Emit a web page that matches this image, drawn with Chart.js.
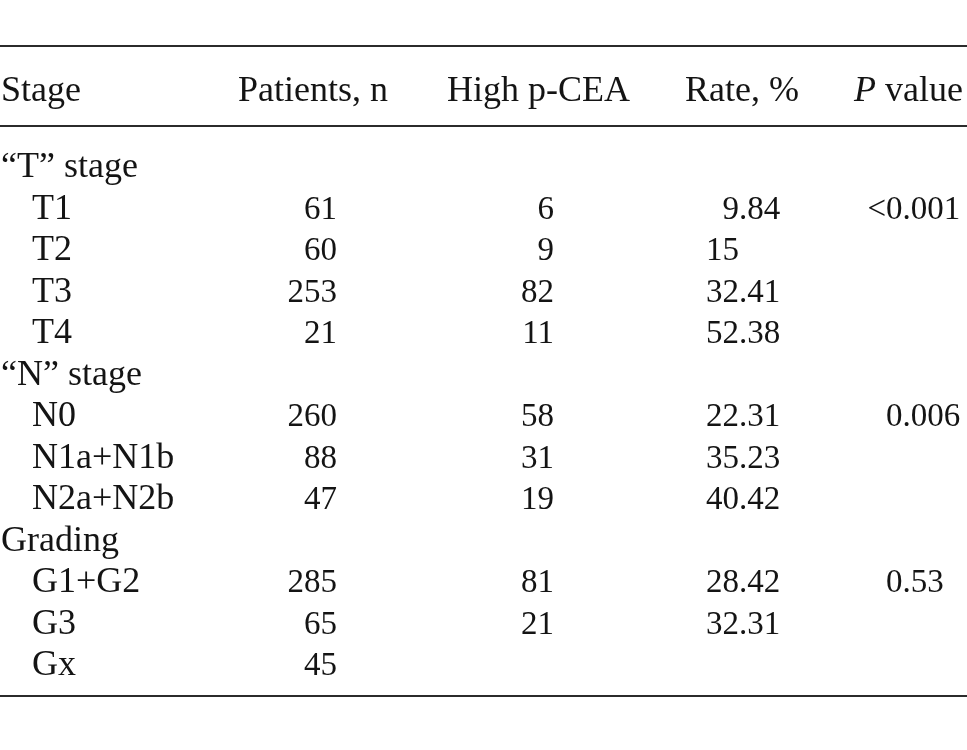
<!DOCTYPE html>
<html>
<head>
<meta charset="utf-8">
<script src="https://cdn.jsdelivr.net/npm/chart.js@4.4.1/dist/chart.umd.min.js"></script>
<style>
  html, body { margin: 0; padding: 0; background: #ffffff; }
  #wrap { position: relative; width: 967px; height: 750px; }
</style>
</head>
<body>
<div id="wrap"><canvas id="c"></canvas></div>
<script>
// ---- data ----
const headers = ['Stage', 'Patients, n', 'High p-CEA', 'Rate, %', 'P value'];
const stages = ['“T” stage', 'T1', 'T2', 'T3', 'T4', '“N” stage', 'N0', 'N1a+N1b', 'N2a+N2b', 'Grading', 'G1+G2', 'G3', 'Gx'];
const patients = [null, 61, 60, 253, 21, null, 260, 88, 47, null, 285, 65, 45];
const highCEA = [null, 6, 9, 82, 11, null, 58, 31, 19, null, 81, 21, null];
const ratePct = [null, '9.84', '15', '32.41', '52.38', null, '22.31', '35.23', '40.42', null, '28.42', '32.31', null];
const pValues = [null, '<0.001', null, null, null, null, '0.006', null, null, null, '0.53', null, null];

// ---- layout / style (not data) ----
const FONT_LABEL = '36px "Liberation Serif", "Times New Roman", serif';
const FONT_NUM = '33px "Liberation Serif", "Times New Roman", serif';
const INK = '#141414';
const colAnchor = { groupLabel: 1, subLabel: 32, patients: 337, high: 554, rate: 739, p: 902.5 };

function pointsFor(values, anchor) {
  const pts = [];
  values.forEach((v, i) => { if (v !== null && v !== undefined) pts.push({ x: anchor, y: i, text: String(v) }); });
  return pts;
}
const labelPts = stages.map((s, i) => ({
  x: patients[i] === null && highCEA[i] === null ? colAnchor.groupLabel : colAnchor.subLabel,
  y: i, text: s
}));

const textPlugin = {
  id: 'tableText',
  afterDatasetsDraw(chart) {
    const ctx = chart.ctx;
    const ys = chart.scales.y;
    const xs = chart.scales.x;
    ctx.save();
    ctx.fillStyle = INK;
    ctx.textBaseline = 'alphabetic';
    const capHalf = 11.5;
    chart.data.datasets.forEach((ds, di) => {
      const meta = chart.getDatasetMeta(di);
      meta.data.forEach((el, j) => {
        const raw = ds.data[j];
        const base = el.y + capHalf;
        if (ds.kind === 'label') {
          ctx.font = FONT_LABEL;
          ctx.textAlign = 'left';
          ctx.fillText(raw.text, el.x, base);
        } else {
          ctx.font = FONT_NUM;
          ctx.textAlign = 'left';
          const intPart = raw.text.split('.')[0];
          const w = ctx.measureText(intPart).width;
          ctx.fillText(raw.text, el.x - w, base);
        }
      });
    });
    // header row
    const headBase = ys.getPixelForValue(-1.833) + capHalf;
    ctx.font = FONT_LABEL;
    ctx.textAlign = 'left';
    ctx.fillText(headers[0], xs.getPixelForValue(1), headBase);
    ctx.textAlign = 'center';
    ctx.fillText(headers[1], xs.getPixelForValue(313), headBase);
    ctx.fillText(headers[2], xs.getPixelForValue(538.5), headBase);
    ctx.fillText(headers[3], xs.getPixelForValue(742), headBase);
    // "P value" with italic P, right-aligned
    const pWord = headers[4].split(' ');
    ctx.textAlign = 'left';
    ctx.font = 'italic ' + FONT_LABEL;
    const wP = ctx.measureText(pWord[0]).width;
    ctx.font = FONT_LABEL;
    const rest = ' ' + pWord.slice(1).join(' ');
    const wRest = ctx.measureText(rest).width;
    const right = xs.getPixelForValue(963);
    const startX = right - wP - wRest;
    ctx.font = 'italic ' + FONT_LABEL;
    ctx.fillText(pWord[0], startX, headBase);
    ctx.font = FONT_LABEL;
    ctx.fillText(rest, startX + wP, headBase);
    // rules
    ctx.strokeStyle = '#2b2b2b';
    ctx.lineWidth = 2;
    [-2.88, -0.94, 12.78].forEach(v => {
      const y = Math.round(ys.getPixelForValue(v));
      ctx.beginPath();
      ctx.moveTo(xs.getPixelForValue(0), y);
      ctx.lineTo(xs.getPixelForValue(967), y);
      ctx.stroke();
    });
    ctx.restore();
  }
};

const hidden = { pointRadius: 0, pointHoverRadius: 0, showLine: false, borderWidth: 0 };
new Chart(document.getElementById('c'), {
  type: 'scatter',
  data: {
    datasets: [
      Object.assign({ label: headers[0], kind: 'label', data: labelPts }, hidden),
      Object.assign({ label: headers[1], kind: 'num', data: pointsFor(patients, colAnchor.patients) }, hidden),
      Object.assign({ label: headers[2], kind: 'num', data: pointsFor(highCEA, colAnchor.high) }, hidden),
      Object.assign({ label: headers[3], kind: 'num', data: pointsFor(ratePct, colAnchor.rate) }, hidden),
      Object.assign({ label: headers[4], kind: 'num', data: pointsFor(pValues, colAnchor.p) }, hidden)
    ]
  },
  options: {
    responsive: true,
    maintainAspectRatio: false,
    animation: false,
    events: [],
    layout: { padding: { top: 144.75, bottom: 65.75, left: 0, right: 0 } },
    plugins: { legend: { display: false }, tooltip: { enabled: false } },
    scales: {
      x: { type: 'linear', display: false, min: 0, max: 967 },
      y: { type: 'linear', display: false, reverse: true, min: -0.5, max: 12.5 }
    }
  },
  plugins: [textPlugin]
});
</script>
</body>
</html>
